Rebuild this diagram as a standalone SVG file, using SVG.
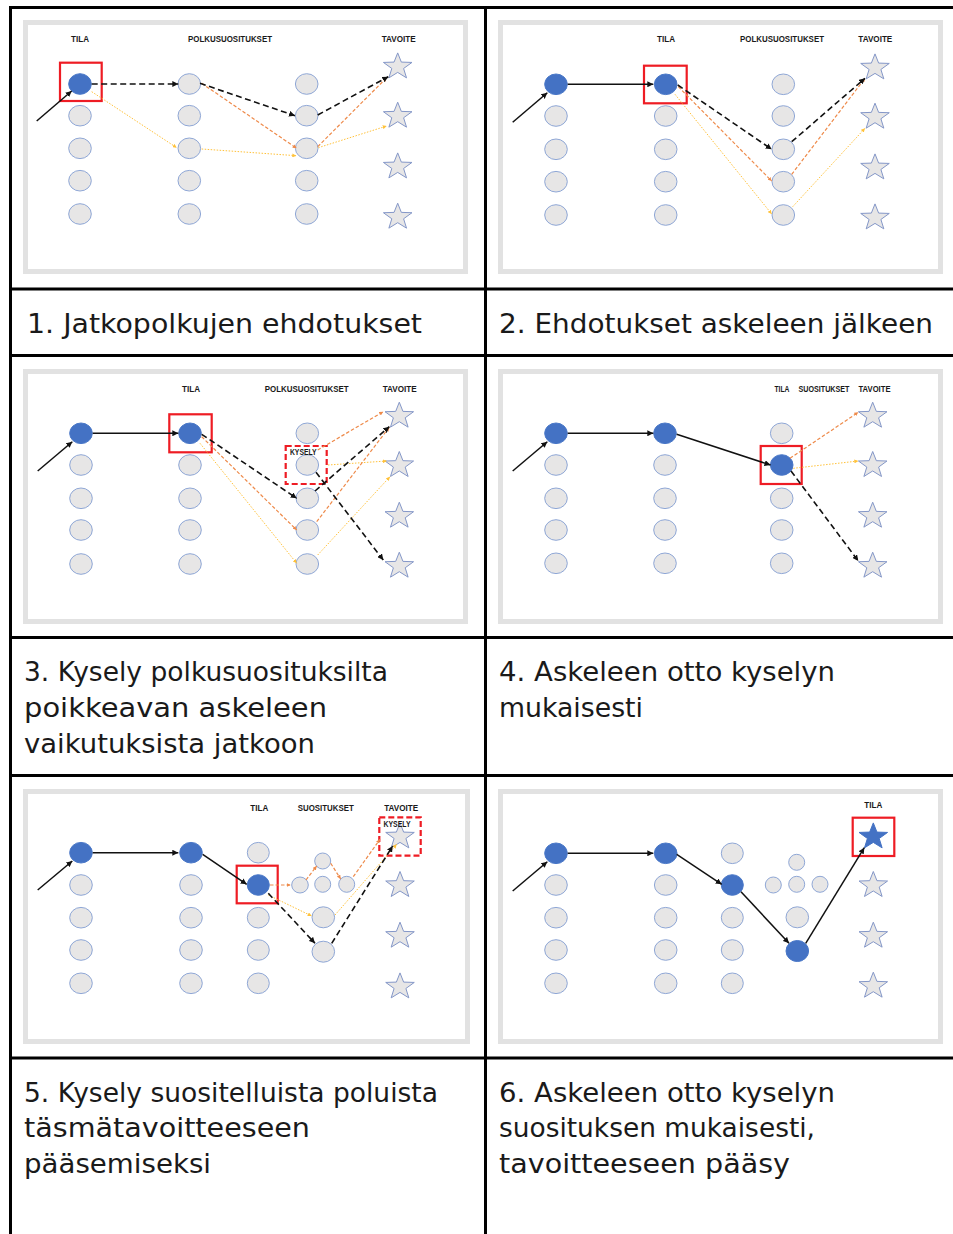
<svg xmlns="http://www.w3.org/2000/svg" xmlns:xlink="http://www.w3.org/1999/xlink" width="953" height="1234" viewBox="0 0 953 1234">
<style>
.frame{fill:#fff;stroke:#e2e2e2;stroke-width:5}
.n{fill:#e7e6e6;stroke:#8fa7d6;stroke-width:1}
.b{fill:#4472c4;stroke:#4a78c8;stroke-width:1}
.st{fill:#e7e6e6;stroke:#8497c8;stroke-width:1}
.stb{fill:#4472c4;stroke:#4472c4;stroke-width:1}
.red{fill:none;stroke:#ee1c24;stroke-width:2.2}
.redd{fill:none;stroke:#ee1c24;stroke-width:2.2;stroke-dasharray:6 3}
.lbl{font-family:"Liberation Sans",Arial,sans-serif;font-weight:bold;font-size:9.5px;fill:#1a1a1a;text-anchor:middle}
.lbls{font-family:"Liberation Sans",Arial,sans-serif;font-weight:bold;font-size:8.5px;fill:#1a1a1a;text-anchor:middle}
.sol{stroke:#111;stroke-width:1.5;fill:none;marker-end:url(#ah)}
.bd{stroke:#111;stroke-width:1.6;fill:none;stroke-dasharray:6 3.5;marker-end:url(#ah)}
.od{stroke:#ee8a4a;stroke-width:1.2;fill:none;stroke-dasharray:3.5 2;marker-end:url(#ao)}
.yd{stroke:#ffc23a;stroke-width:1;fill:none;stroke-dasharray:1.5 1.5;marker-end:url(#ay)}
.grid{stroke:#000;stroke-width:3;fill:none}
.cap{font-family:"DejaVu Sans","Liberation Sans",sans-serif;font-size:26px;fill:#1a1a1a}
</style>
<defs>
<marker id="ah" markerUnits="userSpaceOnUse" markerWidth="7" markerHeight="6" refX="6" refY="3" orient="auto"><path d="M0,0 L6,3 L0,6 z" fill="#111"/></marker>
<marker id="ao" markerUnits="userSpaceOnUse" markerWidth="5" markerHeight="4" refX="4" refY="2" orient="auto"><path d="M0,0 L4,2 L0,4 z" fill="#ee8a4a"/></marker>
<marker id="ay" markerUnits="userSpaceOnUse" markerWidth="5" markerHeight="4" refX="4" refY="2" orient="auto"><path d="M0,0 L4,2 L0,4 z" fill="#ffc23a"/></marker>
<polygon id="star" points="0,-13.8 3.64,-4.62 14.27,-4.27 5.9,1.77 8.82,11.17 0,5.7 -8.82,11.17 -5.9,1.77 -14.27,-4.27 -3.64,-4.62"/>
</defs>

<g id="table" class="grid">
<path d="M9,7.5 H953 M9,289 H953 M9,355.5 H953 M9,637.5 H953 M9,775.5 H953 M9,1058 H953"/>
<path d="M10.5,6 V1234 M485.5,6 V1234"/>
</g>

<!-- Panel 1 -->
<g id="panel1" transform="translate(20,15)">
<rect class="frame" x="5.5" y="7.5" width="440" height="249"/>
<g id="p1-labels">
<text class="lbl" x="60" y="27" textLength="18" lengthAdjust="spacingAndGlyphs">TILA</text>
<text class="lbl" x="210" y="27" textLength="84" lengthAdjust="spacingAndGlyphs">POLKUSUOSITUKSET</text>
<text class="lbl" x="378.7" y="27" textLength="34" lengthAdjust="spacingAndGlyphs">TAVOITE</text>
</g>
<g id="p1-nodes">
<ellipse id="p1-a1" class="b" cx="60" cy="69" rx="11.3" ry="10.3"/>
<ellipse id="p1-a2" class="n" cx="60" cy="100.7" rx="11.3" ry="10.3"/>
<ellipse id="p1-a3" class="n" cx="60" cy="133.3" rx="11.3" ry="10.3"/>
<ellipse id="p1-a4" class="n" cx="60" cy="165.7" rx="11.3" ry="10.3"/>
<ellipse id="p1-a5" class="n" cx="60" cy="199" rx="11.3" ry="10.3"/>
<ellipse id="p1-b1" class="n" cx="169.3" cy="69" rx="11.3" ry="10.3"/>
<ellipse id="p1-b2" class="n" cx="169.3" cy="100.7" rx="11.3" ry="10.3"/>
<ellipse id="p1-b3" class="n" cx="169.3" cy="133.3" rx="11.3" ry="10.3"/>
<ellipse id="p1-b4" class="n" cx="169.3" cy="165.7" rx="11.3" ry="10.3"/>
<ellipse id="p1-b5" class="n" cx="169.3" cy="199" rx="11.3" ry="10.3"/>
<ellipse id="p1-c1" class="n" cx="286.7" cy="69" rx="11.3" ry="10.3"/>
<ellipse id="p1-c2" class="n" cx="286.7" cy="100.7" rx="11.3" ry="10.3"/>
<ellipse id="p1-c3" class="n" cx="286.7" cy="133.3" rx="11.3" ry="10.3"/>
<ellipse id="p1-c4" class="n" cx="286.7" cy="165.7" rx="11.3" ry="10.3"/>
<ellipse id="p1-c5" class="n" cx="286.7" cy="199" rx="11.3" ry="10.3"/>
<use id="p1-s1" href="#star" class="st" x="377.7" y="51.7"/>
<use id="p1-s2" href="#star" class="st" x="377.7" y="101"/>
<use id="p1-s3" href="#star" class="st" x="377.7" y="151.7"/>
<use id="p1-s4" href="#star" class="st" x="377.7" y="202"/>
<rect id="p1-sel" class="red" x="40" y="47.7" width="41.7" height="38.3"/>
</g>
<g id="p1-connectors">
<line class="yd" x1="71.7" y1="76.7" x2="156.7" y2="132.7"/>
<line class="yd" x1="181.7" y1="134" x2="276.3" y2="140.7"/>
<line class="yd" x1="298.3" y1="132.7" x2="366.7" y2="111"/>
<line class="od" x1="181.7" y1="68.3" x2="276.7" y2="133.3"/>
<line class="od" x1="297.7" y1="131.7" x2="366.7" y2="62.7"/>
<line class="sol" x1="16.7" y1="106" x2="51.7" y2="76"/>
<line class="bd" x1="71.7" y1="69" x2="158.3" y2="69"/>
<line class="bd" x1="180" y1="68.3" x2="275" y2="100.7"/>
<line class="bd" x1="297.7" y1="100" x2="368.3" y2="61.7"/>
</g>
</g>

<!-- Panel 2 -->
<g id="panel2" transform="translate(495,15)">
<rect class="frame" x="5.5" y="7.5" width="440" height="249"/>
<g id="p2-labels">
<text class="lbl" x="171" y="27.3" textLength="18" lengthAdjust="spacingAndGlyphs">TILA</text>
<text class="lbl" x="287" y="27.3" textLength="84" lengthAdjust="spacingAndGlyphs">POLKUSUOSITUKSET</text>
<text class="lbl" x="380.3" y="27.3" textLength="34" lengthAdjust="spacingAndGlyphs">TAVOITE</text>
</g>
<g id="p2-nodes">
<ellipse id="p2-a1" class="b" cx="61" cy="69.3" rx="11.3" ry="10.3"/>
<ellipse id="p2-a2" class="n" cx="61" cy="101" rx="11.3" ry="10.3"/>
<ellipse id="p2-a3" class="n" cx="61" cy="134.3" rx="11.3" ry="10.3"/>
<ellipse id="p2-a4" class="n" cx="61" cy="166.7" rx="11.3" ry="10.3"/>
<ellipse id="p2-a5" class="n" cx="61" cy="200" rx="11.3" ry="10.3"/>
<ellipse id="p2-b1" class="b" cx="170.7" cy="69.3" rx="11.3" ry="10.3"/>
<ellipse id="p2-b2" class="n" cx="170.7" cy="101" rx="11.3" ry="10.3"/>
<ellipse id="p2-b3" class="n" cx="170.7" cy="134.3" rx="11.3" ry="10.3"/>
<ellipse id="p2-b4" class="n" cx="170.7" cy="166.7" rx="11.3" ry="10.3"/>
<ellipse id="p2-b5" class="n" cx="170.7" cy="200" rx="11.3" ry="10.3"/>
<ellipse id="p2-c1" class="n" cx="288.3" cy="69.3" rx="11.3" ry="10.3"/>
<ellipse id="p2-c2" class="n" cx="288.3" cy="101" rx="11.3" ry="10.3"/>
<ellipse id="p2-c3" class="n" cx="288.3" cy="134.3" rx="11.3" ry="10.3"/>
<ellipse id="p2-c4" class="n" cx="288.3" cy="166.7" rx="11.3" ry="10.3"/>
<ellipse id="p2-c5" class="n" cx="288.3" cy="200" rx="11.3" ry="10.3"/>
<use id="p2-s1" href="#star" class="st" x="380" y="52.7"/>
<use id="p2-s2" href="#star" class="st" x="380" y="102"/>
<use id="p2-s3" href="#star" class="st" x="380" y="152.7"/>
<use id="p2-s4" href="#star" class="st" x="380" y="202.7"/>
<rect id="p2-sel" class="red" x="149" y="50.7" width="42.7" height="37.6"/>
</g>
<g id="p2-connectors">
<line class="yd" x1="180" y1="79.3" x2="276.7" y2="199"/>
<line class="yd" x1="297.7" y1="191.7" x2="370" y2="113.3"/>
<line class="od" x1="183.3" y1="71.7" x2="276.7" y2="166"/>
<line class="od" x1="296.7" y1="159.3" x2="370" y2="63.3"/>
<line class="sol" x1="17.7" y1="107.3" x2="52.3" y2="77.7"/>
<line class="sol" x1="72.7" y1="69.3" x2="158.3" y2="69.3"/>
<line class="bd" x1="182.7" y1="70" x2="276.7" y2="134.3"/>
<line class="bd" x1="296.7" y1="126.7" x2="370" y2="63.3"/>
</g>
</g>

<!-- Panel 3 -->
<g id="panel3" transform="translate(20,365)">
<rect class="frame" x="5.5" y="6.5" width="440" height="250"/>
<g id="p3-labels">
<text class="lbl" x="171" y="26.7" textLength="18" lengthAdjust="spacingAndGlyphs">TILA</text>
<text class="lbl" x="286.7" y="26.7" textLength="84" lengthAdjust="spacingAndGlyphs">POLKUSUOSITUKSET</text>
<text class="lbl" x="379.7" y="26.7" textLength="34" lengthAdjust="spacingAndGlyphs">TAVOITE</text>
</g>
<g id="p3-nodes">
<ellipse id="p3-a1" class="b" cx="61" cy="68.3" rx="11.3" ry="10.3"/>
<ellipse id="p3-a2" class="n" cx="61" cy="100" rx="11.3" ry="10.3"/>
<ellipse id="p3-a3" class="n" cx="61" cy="133.3" rx="11.3" ry="10.3"/>
<ellipse id="p3-a4" class="n" cx="61" cy="165" rx="11.3" ry="10.3"/>
<ellipse id="p3-a5" class="n" cx="61" cy="199" rx="11.3" ry="10.3"/>
<ellipse id="p3-b1" class="b" cx="170" cy="68.3" rx="11.3" ry="10.3"/>
<ellipse id="p3-b2" class="n" cx="170" cy="100" rx="11.3" ry="10.3"/>
<ellipse id="p3-b3" class="n" cx="170" cy="133.3" rx="11.3" ry="10.3"/>
<ellipse id="p3-b4" class="n" cx="170" cy="165" rx="11.3" ry="10.3"/>
<ellipse id="p3-b5" class="n" cx="170" cy="199" rx="11.3" ry="10.3"/>
<ellipse id="p3-c1" class="n" cx="287.3" cy="68.3" rx="11.3" ry="10.3"/>
<ellipse id="p3-c2" class="n" cx="287.3" cy="100" rx="11.3" ry="10.3"/>
<ellipse id="p3-c3" class="n" cx="287.3" cy="133.3" rx="11.3" ry="10.3"/>
<ellipse id="p3-c4" class="n" cx="287.3" cy="165" rx="11.3" ry="10.3"/>
<ellipse id="p3-c5" class="n" cx="287.3" cy="199" rx="11.3" ry="10.3"/>
<use id="p3-s1" href="#star" class="st" x="379.3" y="51"/>
<use id="p3-s2" href="#star" class="st" x="379.3" y="100.3"/>
<use id="p3-s3" href="#star" class="st" x="379.3" y="151"/>
<use id="p3-s4" href="#star" class="st" x="379.3" y="201"/>
<rect id="p3-sel" class="red" x="149.3" y="49.3" width="42.4" height="38"/>
</g>
<g id="p3-query">
<rect class="redd" x="265.7" y="81" width="41" height="38"/>
<text class="lbl" x="283.3" y="89.5" textLength="26.7" lengthAdjust="spacingAndGlyphs">KYSELY</text>
</g>
<g id="p3-connectors">
<line class="yd" x1="180" y1="78.3" x2="276.7" y2="198.3"/>
<line class="yd" x1="297.7" y1="190" x2="370" y2="111.7"/>
<line class="yd" x1="308" y1="100" x2="366.7" y2="96"/>
<line class="od" x1="181.7" y1="71.7" x2="276.7" y2="165"/>
<line class="od" x1="296.7" y1="156.7" x2="369.3" y2="62.3"/>
<line class="od" x1="297.7" y1="85" x2="363.3" y2="46.7"/>
<line class="sol" x1="17.7" y1="106" x2="52.3" y2="76.7"/>
<line class="sol" x1="72.7" y1="68.3" x2="158.3" y2="68.3"/>
<line class="bd" x1="181.7" y1="69.3" x2="276.7" y2="133.3"/>
<line class="bd" x1="295" y1="126" x2="369.3" y2="61.7"/>
<line class="bd" x1="296" y1="107.3" x2="363.3" y2="195"/>
</g>
</g>

<!-- Panel 4 -->
<g id="panel4" transform="translate(495,365)">
<rect class="frame" x="5.5" y="6.5" width="440" height="250"/>
<g id="p4-labels">
<text class="lbls" x="287" y="26.7" textLength="15" lengthAdjust="spacingAndGlyphs">TILA</text>
<text class="lbls" x="329" y="26.7" textLength="51" lengthAdjust="spacingAndGlyphs">SUOSITUKSET</text>
<text class="lbls" x="379.5" y="26.7" textLength="32" lengthAdjust="spacingAndGlyphs">TAVOITE</text>
</g>
<g id="p4-nodes">
<ellipse id="p4-a1" class="b" cx="61" cy="68.3" rx="11.3" ry="10.3"/>
<ellipse id="p4-a2" class="n" cx="61" cy="100" rx="11.3" ry="10.3"/>
<ellipse id="p4-a3" class="n" cx="61" cy="133.3" rx="11.3" ry="10.3"/>
<ellipse id="p4-a4" class="n" cx="61" cy="165" rx="11.3" ry="10.3"/>
<ellipse id="p4-a5" class="n" cx="61" cy="198.3" rx="11.3" ry="10.3"/>
<ellipse id="p4-b1" class="b" cx="170" cy="68.3" rx="11.3" ry="10.3"/>
<ellipse id="p4-b2" class="n" cx="170" cy="100" rx="11.3" ry="10.3"/>
<ellipse id="p4-b3" class="n" cx="170" cy="133.3" rx="11.3" ry="10.3"/>
<ellipse id="p4-b4" class="n" cx="170" cy="165" rx="11.3" ry="10.3"/>
<ellipse id="p4-b5" class="n" cx="170" cy="198.3" rx="11.3" ry="10.3"/>
<ellipse id="p4-c1" class="n" cx="286.7" cy="68.3" rx="11.3" ry="10.3"/>
<ellipse id="p4-c2" class="b" cx="286.7" cy="100" rx="11.3" ry="10.3"/>
<ellipse id="p4-c3" class="n" cx="286.7" cy="133.3" rx="11.3" ry="10.3"/>
<ellipse id="p4-c4" class="n" cx="286.7" cy="165" rx="11.3" ry="10.3"/>
<ellipse id="p4-c5" class="n" cx="286.7" cy="198.3" rx="11.3" ry="10.3"/>
<use id="p4-s1" href="#star" class="st" x="377.7" y="51"/>
<use id="p4-s2" href="#star" class="st" x="377.7" y="100.3"/>
<use id="p4-s3" href="#star" class="st" x="377.7" y="151"/>
<use id="p4-s4" href="#star" class="st" x="377.7" y="201"/>
<rect id="p4-sel" class="red" x="265.7" y="81" width="41" height="38"/>
</g>
<g id="p4-connectors">
<line class="od" x1="295" y1="93.3" x2="363.3" y2="47.3"/>
<line class="yd" x1="298.3" y1="103.3" x2="363.3" y2="96"/>
<line class="sol" x1="17.7" y1="106" x2="52.3" y2="76.7"/>
<line class="sol" x1="72.7" y1="68.3" x2="158.3" y2="68.3"/>
<line class="sol" x1="181.7" y1="69.3" x2="275.5" y2="100"/>
<line class="bd" x1="296" y1="106" x2="363.3" y2="196"/>
</g>
</g>

<!-- Panel 5 -->
<g id="panel5" transform="translate(20,785)">
<rect class="frame" x="5.5" y="6.5" width="442" height="250"/>
<g id="p5-labels">
<text class="lbl" x="239.3" y="25.7" textLength="18" lengthAdjust="spacingAndGlyphs">TILA</text>
<text class="lbl" x="305.8" y="25.7" textLength="56" lengthAdjust="spacingAndGlyphs">SUOSITUKSET</text>
<text class="lbl" x="381.2" y="25.7" textLength="34" lengthAdjust="spacingAndGlyphs">TAVOITE</text>
</g>
<g id="p5-nodes">
<ellipse id="p5-a1" class="b" cx="61" cy="67.7" rx="11.3" ry="10.3"/>
<ellipse id="p5-a2" class="n" cx="61" cy="100" rx="11.3" ry="10.3"/>
<ellipse id="p5-a3" class="n" cx="61" cy="132.7" rx="11.3" ry="10.3"/>
<ellipse id="p5-a4" class="n" cx="61" cy="165" rx="11.3" ry="10.3"/>
<ellipse id="p5-a5" class="n" cx="61" cy="198.3" rx="11.3" ry="10.3"/>
<ellipse id="p5-b1" class="b" cx="171" cy="67.7" rx="11.3" ry="10.3"/>
<ellipse id="p5-b2" class="n" cx="171" cy="100" rx="11.3" ry="10.3"/>
<ellipse id="p5-b3" class="n" cx="171" cy="132.7" rx="11.3" ry="10.3"/>
<ellipse id="p5-b4" class="n" cx="171" cy="165" rx="11.3" ry="10.3"/>
<ellipse id="p5-b5" class="n" cx="171" cy="198.3" rx="11.3" ry="10.3"/>
<ellipse id="p5-c1" class="n" cx="238.3" cy="67.7" rx="11" ry="10.3"/>
<ellipse id="p5-c2" class="b" cx="238.3" cy="100" rx="11" ry="10.3"/>
<ellipse id="p5-c3" class="n" cx="238.3" cy="132.7" rx="11" ry="10.3"/>
<ellipse id="p5-c4" class="n" cx="238.3" cy="165" rx="11" ry="10.3"/>
<ellipse id="p5-c5" class="n" cx="238.3" cy="198.3" rx="11" ry="10.3"/>
<ellipse id="p5-d1" class="n" cx="280" cy="100" rx="8.3" ry="8"/>
<ellipse id="p5-d2" class="n" cx="302.7" cy="76" rx="8" ry="8"/>
<ellipse id="p5-d3" class="n" cx="302.7" cy="99.3" rx="8" ry="8"/>
<ellipse id="p5-d4" class="n" cx="326.7" cy="99.3" rx="8" ry="8"/>
<ellipse id="p5-d5" class="n" cx="303.3" cy="132.3" rx="11.3" ry="10.5"/>
<ellipse id="p5-d6" class="n" cx="303.3" cy="166.7" rx="11.3" ry="10.5"/>
<use id="p5-s1" href="#star" class="st" x="380" y="51.7"/>
<use id="p5-s2" href="#star" class="st" x="380" y="100.3"/>
<use id="p5-s3" href="#star" class="st" x="380" y="151"/>
<use id="p5-s4" href="#star" class="st" x="380" y="201.7"/>
<rect id="p5-sel" class="red" x="216.7" y="80.7" width="41" height="37.6"/>
</g>
<g id="p5-query">
<rect class="redd" x="359.3" y="32.3" width="41.4" height="38.4"/>
<text class="lbl" x="377" y="41.7" textLength="27" lengthAdjust="spacingAndGlyphs">KYSELY</text>
</g>
<g id="p5-connectors">
<line class="od" x1="250" y1="100" x2="270.7" y2="100"/>
<line class="od" x1="286" y1="95" x2="296.7" y2="81"/>
<line class="od" x1="310.7" y1="78.3" x2="320.7" y2="94"/>
<line class="od" x1="333.3" y1="91.7" x2="360" y2="54.3"/>
<line class="yd" x1="248.3" y1="110" x2="291.7" y2="131"/>
<line class="yd" x1="315" y1="130" x2="376.7" y2="59.3"/>
<line class="sol" x1="17.7" y1="105" x2="52.3" y2="76"/>
<line class="sol" x1="72.7" y1="67.7" x2="158.3" y2="67.7"/>
<line class="sol" x1="182.7" y1="69.3" x2="226.7" y2="99.3"/>
<line class="bd" x1="248.3" y1="108.3" x2="295" y2="158.3"/>
<line class="bd" x1="311.7" y1="158.3" x2="372.7" y2="61"/>
</g>
</g>

<!-- Panel 6 -->
<g id="panel6" transform="translate(495,785)">
<rect class="frame" x="5.5" y="6.5" width="440" height="250"/>
<g id="p6-labels">
<text class="lbl" x="378.3" y="23.3" textLength="18" lengthAdjust="spacingAndGlyphs">TILA</text>
</g>
<g id="p6-nodes">
<ellipse id="p6-a1" class="b" cx="61" cy="68.3" rx="11.3" ry="10.3"/>
<ellipse id="p6-a2" class="n" cx="61" cy="100" rx="11.3" ry="10.3"/>
<ellipse id="p6-a3" class="n" cx="61" cy="132.7" rx="11.3" ry="10.3"/>
<ellipse id="p6-a4" class="n" cx="61" cy="165" rx="11.3" ry="10.3"/>
<ellipse id="p6-a5" class="n" cx="61" cy="198.3" rx="11.3" ry="10.3"/>
<ellipse id="p6-b1" class="b" cx="170.7" cy="68.3" rx="11.3" ry="10.3"/>
<ellipse id="p6-b2" class="n" cx="170.7" cy="100" rx="11.3" ry="10.3"/>
<ellipse id="p6-b3" class="n" cx="170.7" cy="132.7" rx="11.3" ry="10.3"/>
<ellipse id="p6-b4" class="n" cx="170.7" cy="165" rx="11.3" ry="10.3"/>
<ellipse id="p6-b5" class="n" cx="170.7" cy="198.3" rx="11.3" ry="10.3"/>
<ellipse id="p6-c1" class="n" cx="237.3" cy="68.3" rx="11" ry="10.3"/>
<ellipse id="p6-c2" class="b" cx="237.3" cy="100" rx="11" ry="10.3"/>
<ellipse id="p6-c3" class="n" cx="237.3" cy="132.7" rx="11" ry="10.3"/>
<ellipse id="p6-c4" class="n" cx="237.3" cy="165" rx="11" ry="10.3"/>
<ellipse id="p6-c5" class="n" cx="237.3" cy="198.3" rx="11" ry="10.3"/>
<ellipse id="p6-d1" class="n" cx="278.3" cy="100" rx="8" ry="8"/>
<ellipse id="p6-d2" class="n" cx="301.7" cy="77.3" rx="8" ry="8"/>
<ellipse id="p6-d3" class="n" cx="301.7" cy="99.3" rx="8" ry="8"/>
<ellipse id="p6-d4" class="n" cx="325" cy="99.3" rx="8" ry="8"/>
<ellipse id="p6-d5" class="n" cx="302.3" cy="132.3" rx="11.3" ry="10.5"/>
<ellipse id="p6-d6" class="b" cx="302.3" cy="166" rx="11.3" ry="10.5"/>
<use id="p6-s1" href="#star" class="stb" x="378.3" y="51.7"/>
<use id="p6-s2" href="#star" class="st" x="378.3" y="100.3"/>
<use id="p6-s3" href="#star" class="st" x="378.3" y="151"/>
<use id="p6-s4" href="#star" class="st" x="378.3" y="201"/>
<rect id="p6-sel" class="red" x="357.7" y="32.7" width="41.6" height="38.3"/>
</g>
<g id="p6-connectors">
<line class="sol" x1="17.7" y1="106" x2="52.3" y2="76.7"/>
<line class="sol" x1="72.7" y1="68.3" x2="158.3" y2="68.3"/>
<line class="sol" x1="181.7" y1="69.3" x2="226.7" y2="99.3"/>
<line class="sol" x1="246" y1="106.7" x2="294" y2="158.3"/>
<line class="sol" x1="310.7" y1="158.3" x2="369.3" y2="62.7"/>
</g>
</g>

<!-- Captions -->
<g id="captions" class="cap">
<text x="27" y="333" textLength="395" lengthAdjust="spacingAndGlyphs">1. Jatkopolkujen ehdotukset</text>
<text x="499" y="333" textLength="434" lengthAdjust="spacingAndGlyphs">2. Ehdotukset askeleen jälkeen</text>
<text x="24" y="681" textLength="364" lengthAdjust="spacingAndGlyphs">3. Kysely polkusuosituksilta</text>
<text x="24" y="717" textLength="303" lengthAdjust="spacingAndGlyphs">poikkeavan askeleen</text>
<text x="24" y="753" textLength="291" lengthAdjust="spacingAndGlyphs">vaikutuksista jatkoon</text>
<text x="499" y="681" textLength="336" lengthAdjust="spacingAndGlyphs">4. Askeleen otto kyselyn</text>
<text x="499" y="717" textLength="144" lengthAdjust="spacingAndGlyphs">mukaisesti</text>
<text x="24" y="1102" textLength="414" lengthAdjust="spacingAndGlyphs">5. Kysely suositelluista poluista</text>
<text x="24" y="1137" textLength="286" lengthAdjust="spacingAndGlyphs">täsmätavoitteeseen</text>
<text x="24" y="1173" textLength="187" lengthAdjust="spacingAndGlyphs">pääsemiseksi</text>
<text x="499" y="1102" textLength="336" lengthAdjust="spacingAndGlyphs">6. Askeleen otto kyselyn</text>
<text x="499" y="1137" textLength="316" lengthAdjust="spacingAndGlyphs">suosituksen mukaisesti,</text>
<text x="499" y="1173" textLength="291" lengthAdjust="spacingAndGlyphs">tavoitteeseen pääsy</text>
</g>
</svg>
